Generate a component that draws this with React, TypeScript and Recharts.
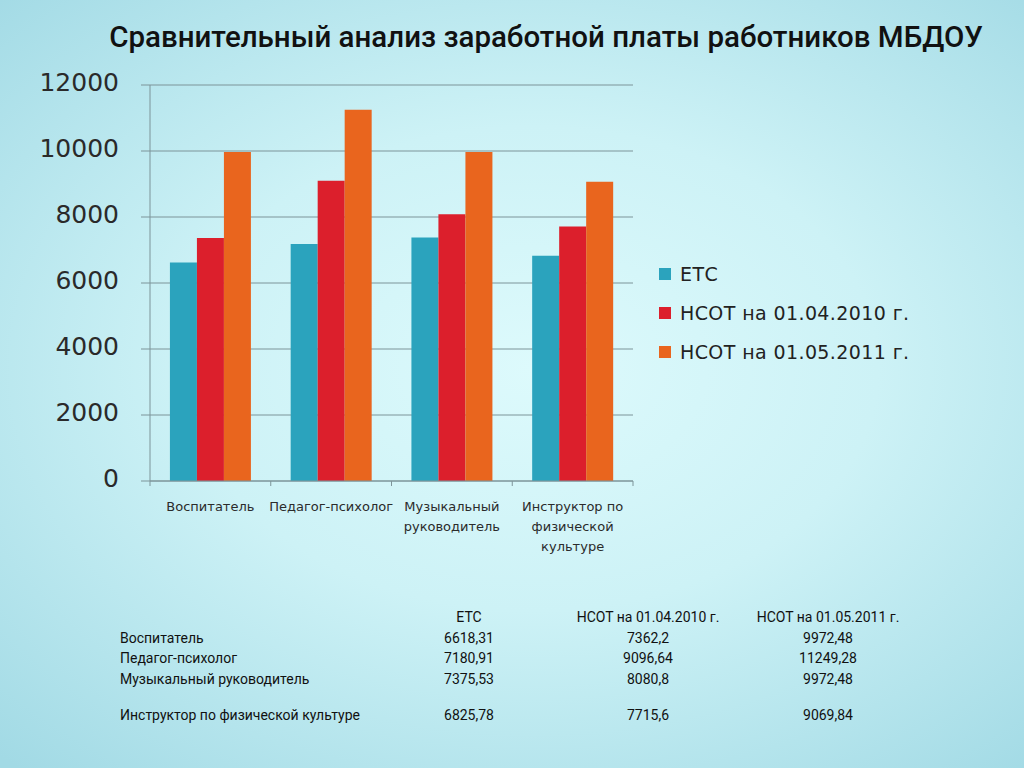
import React from "react"
import { BarChart, Bar, XAxis, YAxis, CartesianGrid, Legend, Text } from "recharts"

// категории и ряды
const categories = ["Воспитатель", "Педагог-психолог", "Музыкальный руководитель", "Инструктор по физической культуре"]
const seriesNames = ["ЕТС", "НСОТ на 01.04.2010 г.", "НСОТ на 01.05.2011 г."]
const etc = [6618.31, 7180.91, 7375.53, 6825.78]
const nsot2010 = [7362.2, 9096.64, 8080.8, 7715.6]
const nsot2011 = [9972.48, 11249.28, 9972.48, 9069.84]
const yTicks = [0, 2000, 4000, 6000, 8000, 10000, 12000]

const colors = ["#2ba3bd", "#dc1f2c", "#e9651e"]
const gridColor = "#7d9499"

const CHART_W = 1024
const CHART_H = 580
const MARGIN = { top: 85, right: 391, left: 0, bottom: 0 }
const Y_AXIS_W = 150
const BAND = (CHART_W - MARGIN.left - MARGIN.right - Y_AXIS_W) / categories.length
const COL_X = [349, 528, 708]

const data = categories.map((name, i) => ({
  name,
  etc: etc[i],
  nsot2010: nsot2010[i],
  nsot2011: nsot2011[i],
}))

const fmt = (v: number) => String(v).replace(".", ",")

// подписи категорий + засечки на границах
const CategoryTick = (props: any) => {
  const { x, y, payload, index } = props
  const left = x - BAND / 2
  return (
    <g>
      <line x1={left} y1={y} x2={left} y2={y + 5} stroke={gridColor} />
      {index === categories.length - 1 && (
        <line x1={x + BAND / 2} y1={y} x2={x + BAND / 2} y2={y + 5} stroke={gridColor} />
      )}
      <Text
        x={x}
        y={y + 21}
        width={125}
        textAnchor="middle"
        verticalAnchor="start"
        lineHeight={20}
        fontSize={13}
        fill="#2b2b2b"
        style={{ fontFamily: "DejaVu Sans" }}
      >
        {payload.value}
      </Text>
    </g>
  )
}

const renderLegend = (props: any) => {
  const { payload } = props
  return (
    <div style={{ fontFamily: "DejaVu Sans", fontSize: 19, letterSpacing: 0.4, color: "#222" }}>
      {payload.map((p: any) => (
        <div key={p.value} style={{ display: "flex", alignItems: "center", height: 39 }}>
          <span style={{ width: 12, height: 12, background: p.color, marginRight: 9, display: "inline-block" }} />
          <span>{p.value}</span>
        </div>
      ))}
    </div>
  )
}

export default function App() {
  return (
    <div
      style={{
        position: "absolute",
        left: 0,
        top: 0,
        width: 1024,
        height: 768,
        overflow: "hidden",
        background: "radial-gradient(ellipse 75% 70% at 52% 48%, #ddfafc 0%, #cdf2f6 45%, #a2dae5 100%)",
      }}
    >
      <div
        style={{
          position: "absolute",
          left: 0,
          width: 1092,
          top: 20,
          textAlign: "center",
          fontFamily: "Roboto",
          fontWeight: 500,
          fontSize: 29.5,
          color: "#111",
          whiteSpace: "nowrap",
        }}
      >
        Сравнительный анализ заработной платы работников МБДОУ
      </div>

      <div style={{ position: "absolute", left: 0, top: 0 }}>
        <BarChart
          width={CHART_W}
          height={CHART_H}
          data={data}
          margin={MARGIN}
          barCategoryGap="16.5%"
          barGap={0}
        >
          <CartesianGrid vertical={false} stroke={gridColor} />
          <XAxis
            dataKey="name"
            interval={0}
            height={CHART_H - 481}
            axisLine={{ stroke: gridColor }}
            tickLine={false}
            tickSize={0}
            tickMargin={0}
            tick={<CategoryTick />}
          />
          <YAxis
            width={Y_AXIS_W}
            domain={[0, 12000]}
            ticks={yTicks}
            interval={0}
            axisLine={{ stroke: gridColor }}
            tickLine={{ stroke: gridColor }}
            tickSize={9}
            tickMargin={22}
            tick={{ fontSize: 25, fill: "#2a2a2a", fontFamily: "DejaVu Sans", dy: -3 }}
          />
          <Legend
            layout="vertical"
            align="center"
            verticalAlign="middle"
            content={renderLegend}
            wrapperStyle={{ left: 659, top: 254, width: 340 }}
          />
          <Bar dataKey="etc" name={seriesNames[0]} fill={colors[0]} isAnimationActive={false} />
          <Bar dataKey="nsot2010" name={seriesNames[1]} fill={colors[1]} isAnimationActive={false} />
          <Bar dataKey="nsot2011" name={seriesNames[2]} fill={colors[2]} isAnimationActive={false} />
        </BarChart>
      </div>

      <div
        style={{
          position: "absolute",
          left: 120,
          top: 607,
          width: 800,
          fontFamily: "Roboto",
          fontSize: 14,
          color: "#111",
        }}
      >
        <div style={{ position: "relative", display: "flex", height: 20.5, alignItems: "center" }}>
          {seriesNames.map((s, j) => (
            <span key={s} style={{ position: "absolute", left: COL_X[j], width: 0, display: "flex", justifyContent: "center", whiteSpace: "nowrap" }}>
              {s}
            </span>
          ))}
        </div>
        {categories.map((c, i) => (
          <div
            key={c}
            style={{ position: "relative", display: "flex", height: 20.5, alignItems: "center", marginTop: i === 3 ? 16 : 0 }}
          >
            <span style={{ whiteSpace: "nowrap" }}>{c}</span>
            {[etc[i], nsot2010[i], nsot2011[i]].map((v, j) => (
              <span key={j} style={{ position: "absolute", left: COL_X[j], width: 0, display: "flex", justifyContent: "center", whiteSpace: "nowrap" }}>
                {fmt(v)}
              </span>
            ))}
          </div>
        ))}
      </div>
    </div>
  )
}
